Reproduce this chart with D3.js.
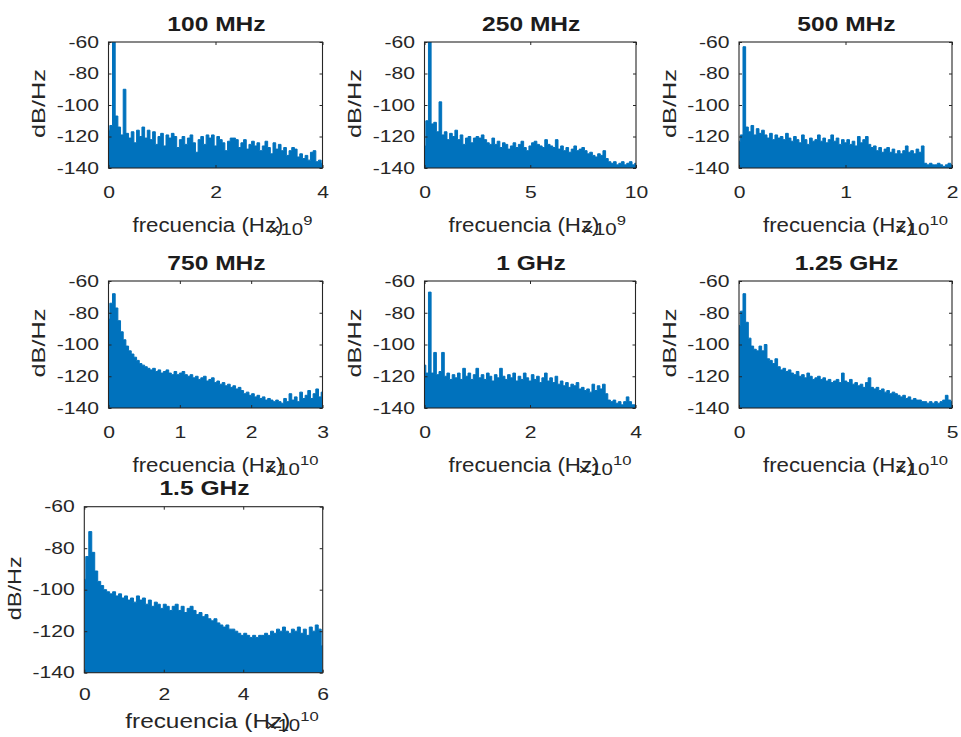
<!DOCTYPE html>
<html>
<head>
<meta charset="utf-8">
<script src="https://cdn.jsdelivr.net/npm/d3@7"></script>
<style>
  html, body { margin: 0; padding: 0; background: #fff; }
  svg { display: block; font-family: "Liberation Sans", Arial, Helvetica, sans-serif; }
</style>
</head>
<body>
<svg id="chart" width="961" height="737"></svg>
<script>
// Power spectral density (dB/Hz) of the sampled signal at seven clock rates.
const titles = ["100 MHz", "250 MHz", "500 MHz", "750 MHz", "1 GHz", "1.25 GHz", "1.5 GHz"];
const fMax = [4e9, 10e9, 20e9, 30e9, 40e9, 50e9, 60e9];
const xExp = [9, 9, 10, 10, 10, 10, 10];
const xTickVals = [
  [0, 2e9, 4e9],
  [0, 5e9, 10e9],
  [0, 1e10, 2e10],
  [0, 1e10, 2e10, 3e10],
  [0, 2e10, 4e10],
  [0, 5e10],
  [0, 2e10, 4e10, 6e10]
];
const yTicks = [-60, -80, -100, -120, -140];
const yLabel = "dB/Hz";
const xLabel = "frecuencia (Hz)";

// PSD samples, evenly spaced from 0 to fMax (81 bins each)
const psd100 = [
  -116, -113, -60, -107, -114, -119, -90, -118, -121, -117,
  -124, -116, -120, -114, -121, -116, -122, -117, -125, -120,
  -118, -126, -119, -121, -118, -120, -127, -122, -120, -125,
  -121, -119, -124, -130, -122, -120, -125, -119, -121, -119,
  -126, -120, -122, -124, -129, -123, -121, -121, -122, -127,
  -124, -122, -128, -125, -123, -126, -124, -129, -126, -123,
  -127, -131, -124, -128, -125, -129, -127, -132, -129, -127,
  -128, -133, -131, -134, -132, -135, -130, -129, -136, -135,
  -137
];
const psd250 = [
  -126, -110, -60, -112, -111, -117, -98, -119, -117, -122,
  -118, -120, -116, -122, -119, -125, -121, -120, -124, -121,
  -120, -121, -119, -122, -124, -125, -121, -125, -123, -127,
  -124, -125, -128, -126, -124, -127, -125, -123, -127, -129,
  -126, -124, -123, -125, -126, -127, -122, -125, -126, -127,
  -122, -128, -126, -129, -127, -130, -128, -126, -129, -128,
  -127, -129, -131, -130, -132, -133, -131, -132, -129, -134,
  -136, -137, -136, -138, -137, -136, -138, -137, -136, -138,
  -137
];
const psd500 = [
  -123, -119, -63, -114, -117, -113, -119, -115, -118, -116,
  -119, -121, -118, -122, -119, -121, -120, -122, -118, -121,
  -123, -120, -122, -124, -119, -122, -125, -121, -123, -122,
  -119, -123, -121, -124, -122, -119, -123, -121, -125, -122,
  -124, -122, -125, -123, -126, -120, -124, -122, -120, -125,
  -127, -126, -129, -127, -130, -128, -127, -130, -128, -131,
  -129, -131, -129, -126, -130, -129, -131, -128, -130, -126,
  -137, -138, -137, -138, -138, -137, -138, -139, -138, -137,
  -138
];
const psd750 = [
  -84, -74, -68, -77, -85, -92, -97, -101, -104, -106,
  -108, -110, -112, -113, -114, -115, -116, -115, -117, -116,
  -118, -117, -116, -118, -119, -117, -119, -118, -117, -119,
  -120, -119, -121, -120, -122, -121, -120, -123, -122, -121,
  -124, -123, -125, -124, -126, -125, -127, -126, -128, -127,
  -129, -131, -130, -132, -131, -133, -132, -134, -133, -135,
  -134, -135, -136, -135, -136, -137, -134, -136, -131, -135,
  -133, -136, -130, -134, -132, -129, -134, -131, -128, -133,
  -130
];
const psd1000 = [
  -113, -118, -67, -118, -105, -119, -117, -105, -120, -118,
  -122, -119, -121, -118, -122, -115, -120, -118, -122, -119,
  -115, -121, -119, -122, -118, -120, -123, -119, -121, -115,
  -120, -122, -119, -121, -118, -123, -120, -122, -118, -121,
  -123, -119, -122, -120, -124, -121, -118, -123, -121, -124,
  -120, -125, -123, -126, -124, -127, -125, -126, -124, -128,
  -127, -129, -128, -130, -125, -129, -126, -128, -125, -131,
  -135, -136, -135, -137, -136, -138, -136, -133, -136, -138,
  -138
];
const psd1250 = [
  -88, -79, -68, -86, -96, -101, -103, -104, -101, -104,
  -100, -109, -110, -112, -109, -114, -116, -115, -117, -116,
  -118, -119, -117, -120, -119, -121, -118, -120, -122, -121,
  -120, -122, -121, -123, -122, -124, -123, -122, -124, -118,
  -123, -124, -122, -125, -124, -126, -125, -127, -124, -121,
  -127, -128, -127, -129, -128, -130, -129, -131, -130, -131,
  -132, -133, -132, -134, -133, -135, -134, -135, -135, -136,
  -136, -137, -136, -137, -136, -137, -136, -135, -132, -135,
  -136
];
const psd1500 = [
  -95, -84, -72, -82, -91, -96, -98, -100, -101, -102,
  -101, -103, -102, -104, -103, -105, -104, -106, -103, -105,
  -104, -107, -105, -108, -106, -107, -109, -107, -108, -110,
  -108, -107, -110, -108, -111, -109, -108, -110, -112, -111,
  -113, -112, -114, -115, -114, -116, -117, -118, -117, -119,
  -119, -120, -121, -122, -121, -122, -123, -122, -123, -122,
  -122, -121, -122, -120, -121, -119, -120, -118, -120, -121,
  -119, -120, -118, -121, -119, -122, -118, -120, -117, -119,
  -127
];
const series = [psd100, psd250, psd500, psd750, psd1000, psd1250, psd1500];

// Axes boxes of the 3x3 subplot grid (seven used)
const boxes = [
  { x0: 108.5, x1: 322.5, y0: 42,    y1: 168,   row: 0 },
  { x0: 424.5, x1: 636,   y0: 42,    y1: 168,   row: 0 },
  { x0: 739,   x1: 952,   y0: 42,    y1: 168,   row: 0 },
  { x0: 108.5, x1: 322.5, y0: 281,   y1: 408,   row: 1 },
  { x0: 424.5, x1: 635.5, y0: 281,   y1: 408,   row: 1 },
  { x0: 739,   x1: 952,   y0: 281,   y1: 408,   row: 1 },
  { x0: 84.3,  x1: 322.7, y0: 506.7, y1: 672.7, row: 2 }
];
const rowStyle = [
  { tickBase: 30,   labelBase: 63.5, labelStart: 24, labelLen: 151, expBase: 67, supDy: -10, yLabelLen: 69 },
  { tickBase: 30,   labelBase: 63.5, labelStart: 24, labelLen: 151, expBase: 67, supDy: -10, yLabelLen: 69 },
  { tickBase: 27.3, labelBase: 55.5, labelStart: 41, labelLen: 165, expBase: 58, supDy: -10, yLabelLen: 64 }
];

const BLUE = "#0072BD";
const INK = "#262626";
const SX = 1.28;      // horizontal stretch of tick text
const TICK = 3;       // inward tick length
const plainNum = v => String(v);   // ASCII hyphen for negatives

const svg = d3.select("#chart");
const defs = svg.append("defs");

series.forEach((vals, k) => {
  const b = boxes[k];
  const st = rowStyle[b.row];
  const x = d3.scaleLinear().domain([0, fMax[k]]).range([b.x0, b.x1]);
  const y = d3.scaleLinear().domain([-140, -60]).range([b.y1, b.y0]);
  const step = fMax[k] / (vals.length - 1);
  const scale = Math.pow(10, xExp[k]);

  const clipId = "plot-clip-" + k;
  defs.append("clipPath").attr("id", clipId)
    .append("rect")
    .attr("x", b.x0).attr("y", b.y0)
    .attr("width", b.x1 - b.x0).attr("height", b.y1 - b.y0);

  const g = svg.append("g");
  const plot = g.append("g").attr("clip-path", `url(#${clipId})`);

  const area = d3.area()
    .curve(d3.curveStep)
    .x((d, i) => x(i * step))
    .y0(y(-145))
    .y1(d => y(d));
  const line = d3.line()
    .curve(d3.curveStep)
    .x((d, i) => x(i * step))
    .y(d => y(d));

  plot.append("path").datum(vals)
    .attr("fill", BLUE)
    .attr("d", area);
  plot.append("path").datum(vals)
    .attr("fill", "none")
    .attr("stroke", BLUE)
    .attr("stroke-width", 1)
    .attr("d", line);

  // bottom axis with inward ticks
  const bottom = g.append("g")
    .attr("transform", `translate(0,${b.y1})`)
    .attr("color", INK)
    .call(d3.axisBottom(x).tickValues(xTickVals[k]).tickSizeInner(-TICK).tickSizeOuter(0)
      .tickFormat(v => plainNum(+(v / scale).toFixed(3))));
  bottom.select(".domain").remove();
  bottom.selectAll("text")
    .attr("y", st.tickBase).attr("dy", null)
    .attr("fill", INK)
    .attr("font-size", 16.5)
    .attr("font-family", "Liberation Sans, Arial, sans-serif")
    .attr("transform", `scale(${SX},1)`);

  // left axis with inward ticks
  const left = g.append("g")
    .attr("transform", `translate(${b.x0},0)`)
    .attr("color", INK)
    .call(d3.axisLeft(y).tickValues(yTicks).tickSizeInner(-TICK).tickSizeOuter(0)
      .tickFormat(plainNum));
  left.select(".domain").remove();
  left.selectAll("text")
    .attr("x", 0)
    .attr("fill", INK)
    .attr("font-size", 16.5)
    .attr("font-family", "Liberation Sans, Arial, sans-serif")
    .attr("transform", `translate(-9.5,0) scale(${SX},1)`);

  // mirrored ticks on top and right (box on)
  const top = g.append("g")
    .attr("transform", `translate(0,${b.y0})`)
    .attr("color", INK)
    .call(d3.axisTop(x).tickValues(xTickVals[k]).tickSizeInner(-TICK).tickSizeOuter(0).tickFormat(() => ""));
  top.select(".domain").remove();
  const right = g.append("g")
    .attr("transform", `translate(${b.x1},0)`)
    .attr("color", INK)
    .call(d3.axisRight(y).tickValues(yTicks).tickSizeInner(-TICK).tickSizeOuter(0).tickFormat(() => ""));
  right.select(".domain").remove();

  // axes frame
  g.append("rect")
    .attr("x", b.x0).attr("y", b.y0)
    .attr("width", b.x1 - b.x0).attr("height", b.y1 - b.y0)
    .attr("fill", "none")
    .attr("stroke", INK)
    .attr("stroke-width", 1.1);

  // title
  g.append("text")
    .attr("transform", `translate(${(b.x0 + b.x1) / 2 + 1},${b.y0 - 11.5}) scale(1.17,1)`)
    .attr("text-anchor", "middle")
    .attr("font-size", 21)
    .attr("font-weight", "bold")
    .attr("fill", "#1c1c1c")
    .text(titles[k]);

  // x label
  g.append("text")
    .attr("x", b.x0 + st.labelStart)
    .attr("y", b.y1 + st.labelBase)
    .attr("font-size", 19.5)
    .attr("fill", INK)
    .attr("textLength", st.labelLen)
    .attr("lengthAdjust", "spacingAndGlyphs")
    .text(xLabel);

  // exponent of the x axis
  const expRight = xExp[k] < 10 ? 10 : 4;
  const ex = g.append("text")
    .attr("transform", `translate(${b.x1 - expRight},${b.y1 + st.expBase}) scale(${SX},1)`)
    .attr("text-anchor", "end")
    .attr("fill", INK);
  ex.append("tspan").attr("font-size", 16).text("\u00d710");
  ex.append("tspan").attr("font-size", 13).attr("dy", st.supDy).text(String(xExp[k]));

  // y label
  g.append("text")
    .attr("transform", `translate(${b.x0 - 63.2},${(b.y0 + b.y1) / 2 - 1.5}) rotate(-90)`)
    .attr("text-anchor", "middle")
    .attr("font-size", 19)
    .attr("fill", INK)
    .attr("textLength", st.yLabelLen)
    .attr("lengthAdjust", "spacingAndGlyphs")
    .text(yLabel);
});
</script>
</body>
</html>
